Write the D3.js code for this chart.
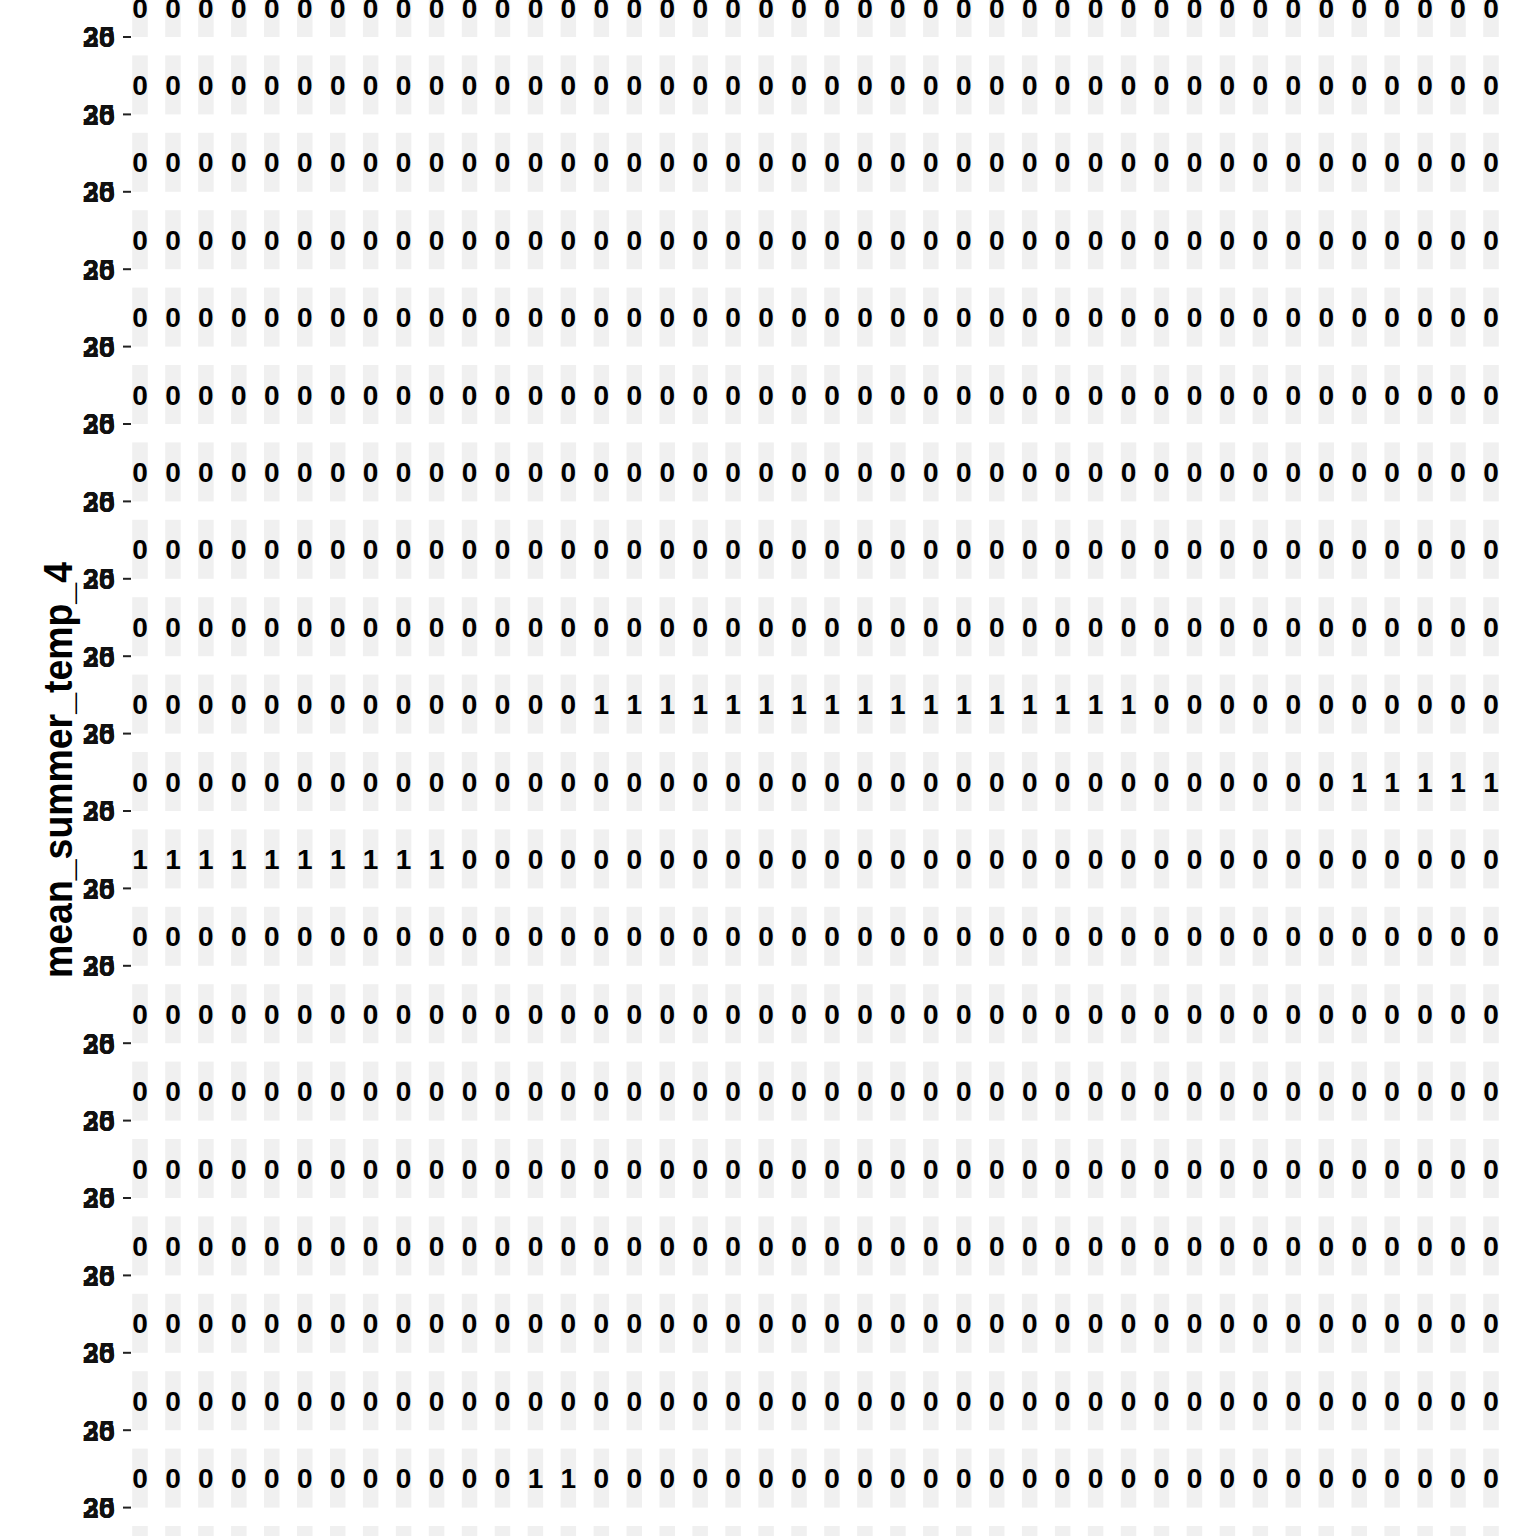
<!DOCTYPE html>
<html>
<head>
<meta charset="utf-8">
<script src="https://cdn.jsdelivr.net/npm/d3@7"></script>
<style>
html,body{margin:0;padding:0;background:#fff;}
svg{display:block;}
</style>
</head>
<body>
<svg id="chart" width="1536" height="1536"></svg>
<script>
// One string per facet row, one character per facet column (label shown in panel)
const rowValues = [
  "000000000000000000000000000000000000000000",
  "000000000000000000000000000000000000000000",
  "000000000000000000000000000000000000000000",
  "000000000000000000000000000000000000000000",
  "000000000000000000000000000000000000000000",
  "000000000000000000000000000000000000000000",
  "000000000000000000000000000000000000000000",
  "000000000000000000000000000000000000000000",
  "000000000000000000000000000000000000000000",
  "000000000000001111111111111111100000000000",
  "000000000000000000000000000000000000011111",
  "111111111100000000000000000000000000000000",
  "000000000000000000000000000000000000000000",
  "000000000000000000000000000000000000000000",
  "000000000000000000000000000000000000000000",
  "000000000000000000000000000000000000000000",
  "000000000000000000000000000000000000000000",
  "000000000000000000000000000000000000000000",
  "000000000000000000000000000000000000000000",
  "000000000000110000000000000000000000000000"
];
const nCols = 42;
const nPanelRows = 21;           // last row of panels runs off the page
const tickLabels = ["20", "25", "30"];
const yTitle = "mean_summer_temp_4";

const svg = d3.select("#chart");
const font = "'Liberation Sans', Arial, Helvetica, sans-serif";

const x = d3.scaleLinear().domain([0, nCols - 1]).range([140, 1491]);
const y = d3.scaleLinear().domain([0, nPanelRows - 1]).range([7.5, 7.5 + 20 * 77.4]);
const pw = 15.5, ph = 59;

const cells = [];
for (let r = 0; r < nPanelRows; r++)
  for (let c = 0; c < nCols; c++) cells.push({r, c});

svg.append("g").selectAll("rect").data(cells).join("rect")
  .attr("x", d => x(d.c) - pw / 2)
  .attr("y", d => y(d.r) - ph / 2)
  .attr("width", pw).attr("height", ph)
  .attr("fill", "#F0F0F0");

const labels = [];
rowValues.forEach((s, r) => s.split("").forEach((v, c) => labels.push({r, c, v})));

svg.append("g").selectAll("text").data(labels).join("text")
  .attr("x", d => x(d.c))
  .attr("y", d => y(d.r))
  .attr("dy", "0.36em")
  .attr("text-anchor", "middle")
  .attr("font-family", font)
  .attr("font-weight", "bold")
  .attr("font-size", 28)
  .attr("fill", "#000")
  .text(d => d.v);

// y-axis ticks at each panel bottom, with overlapping tick labels
const tickRows = d3.range(nPanelRows - 1);
const axisG = svg.append("g");
tickRows.forEach(r => {
  const ty = y(r) + ph / 2;
  axisG.append("line")
    .attr("x1", 123).attr("x2", 131)
    .attr("y1", ty).attr("y2", ty)
    .attr("stroke", "#222").attr("stroke-width", 2);
  tickLabels.forEach(t => {
    axisG.append("text")
      .attr("x", 115).attr("y", ty)
      .attr("dy", "0.36em")
      .attr("text-anchor", "end")
      .attr("font-family", font)
      .attr("font-weight", "bold")
      .attr("font-size", 29)
      .attr("fill", "#111")
      .text(t);
  });
});

svg.append("text")
  .attr("transform", "translate(72,770) rotate(-90)")
  .attr("text-anchor", "middle")
  .attr("font-family", font)
  .attr("font-weight", "bold")
  .attr("font-size", 41)
  .attr("textLength", 416)
  .attr("lengthAdjust", "spacingAndGlyphs")
  .attr("fill", "#000")
  .text(yTitle);
</script>
</body>
</html>
